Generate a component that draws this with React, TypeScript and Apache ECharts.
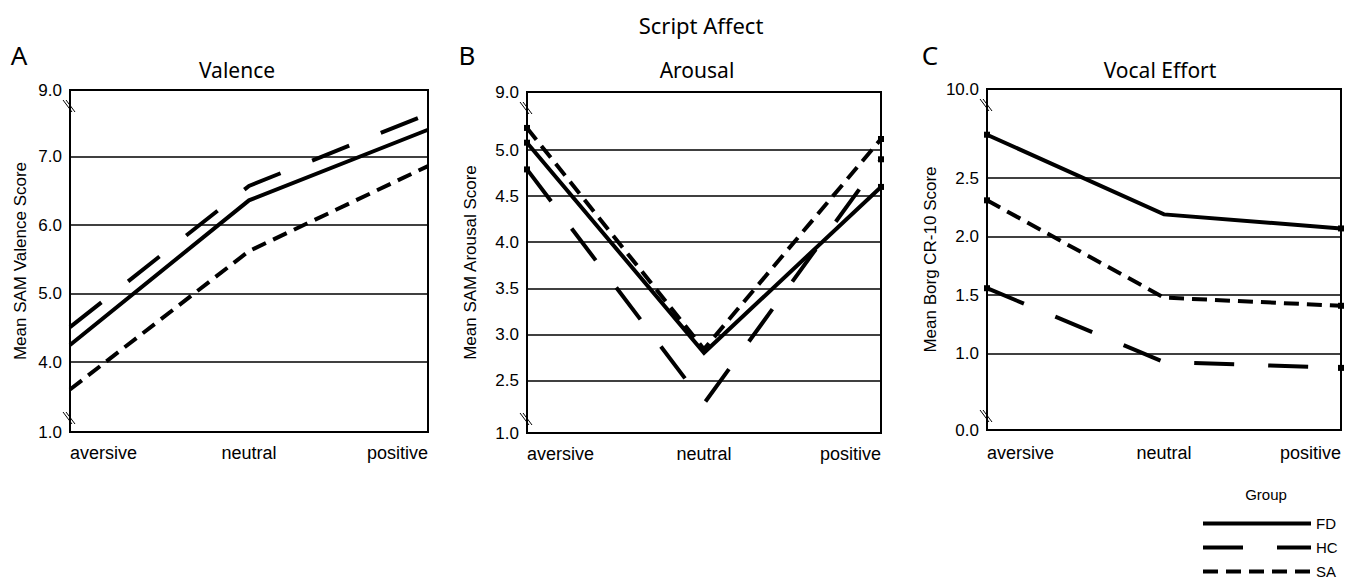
import React, { useEffect, useRef } from "react";
import * as echarts from "echarts";

// ---------- data ----------
const categories = ["aversive", "neutral", "positive"];
const groups = ["FD", "HC", "SA"];

const valenceFD = [4.25, 6.36, 7.39];
const valenceHC = [4.51, 6.57, 7.62];
const valenceSA = [3.6, 5.62, 6.86];

const arousalFD = [5.08, 2.8, 4.6];
const arousalHC = [4.79, 2.25, 4.9];
const arousalSA = [5.24, 2.84, 5.12];

const effortFD = [2.87, 2.19, 2.07];
const effortHC = [1.56, 0.93, 0.88];
const effortSA = [2.31, 1.48, 1.41];

// axis values (first and last are the broken-axis ends) and their labels
const valenceAxisValues = [2.98, 4.0, 5.0, 6.0, 7.0, 7.97];
const valenceAxisLabels = ["1.0", "4.0", "5.0", "6.0", "7.0", "9.0"];
const arousalAxisValues = [1.93, 2.5, 3.0, 3.5, 4.0, 4.5, 5.0, 5.63];
const arousalAxisLabels = ["1.0", "2.5", "3.0", "3.5", "4.0", "4.5", "5.0", "9.0"];
const effortAxisValues = [0.35, 1.0, 1.5, 2.0, 2.5, 3.26];
const effortAxisLabels = ["0.0", "1.0", "1.5", "2.0", "2.5", "10.0"];

const panelTitles = ["Valence", "Arousal", "Vocal Effort"];
const panelLetters = ["A", "B", "C"];
const yNames = ["Mean SAM Valence Score", "Mean SAM Arousal Score", "Mean Borg CR-10 Score"];
const mainTitle = "Script Affect";
const legendTitle = "Group";

// ---------- layout ----------
const grids = [
  { left: 70, top: 90, width: 358, height: 342 },
  { left: 527, top: 92, width: 354, height: 341 },
  { left: 987, top: 89, width: 354, height: 341 },
];
const nameGaps = [41, 48, 48];
const labelMargins = [12, 12, 14];
const titleX = [237, 697, 1160];
const letterX = [19, 467, 930];
const legendRowTops = [516, 540, 564];

const AXIS_FONT = "Liberation Sans";
const TITLE_FONT = "Noto Sans";

const dashTypes: any[] = ["solid", [40, 34], [15, 8]];

export default function App() {
  const ref = useRef<HTMLDivElement>(null);

  useEffect(() => {
    document.body.style.margin = "0";
    if (!ref.current) return;
    const chart = echarts.init(ref.current, undefined, { renderer: "svg" });

    const panels = [
      { series: [valenceFD, valenceHC, valenceSA], vals: valenceAxisValues, labels: valenceAxisLabels, ends: false },
      { series: [arousalFD, arousalHC, arousalSA], vals: arousalAxisValues, labels: arousalAxisLabels, ends: true },
      { series: [effortFD, effortHC, effortSA], vals: effortAxisValues, labels: effortAxisLabels, ends: true },
    ];

    const grid = grids.map((g) => ({ ...g, show: true, borderColor: "#000", borderWidth: 2, backgroundColor: "transparent" }));

    const xAxis = panels.map((_, i) => ({
      gridIndex: i,
      type: "category",
      data: categories,
      boundaryGap: false,
      axisLine: { show: false },
      axisTick: { show: false },
      splitLine: { show: false },
      axisLabel: {
        color: "#000",
        fontSize: 18,
        fontFamily: AXIS_FONT,
        margin: labelMargins[i],
        alignMinLabel: "left",
        alignMaxLabel: "right",
      },
    }));

    const yAxis = panels.map((p, i) => ({
      gridIndex: i,
      type: "value",
      min: p.vals[0],
      max: p.vals[p.vals.length - 1],
      axisLine: { show: false },
      axisTick: { show: false },
      splitLine: { show: false },
      axisLabel: {
        customValues: p.vals,
        showMinLabel: true,
        showMaxLabel: true,
        color: "#000",
        fontSize: 17,
        fontFamily: AXIS_FONT,
        margin: 8,
        formatter: (v: number) => {
          let best = 0;
          for (let k = 0; k < p.vals.length; k++) {
            if (Math.abs(p.vals[k] - v) < Math.abs(p.vals[best] - v)) best = k;
          }
          return p.labels[best];
        },
      },
      name: yNames[i],
      nameLocation: "middle",
      nameGap: nameGaps[i],
      nameTextStyle: { color: "#000", fontSize: 17, fontFamily: AXIS_FONT },
    }));

    const series: any[] = [];
    panels.forEach((p, i) => {
      p.series.forEach((data, s) => {
        const seriesData = p.ends
          ? data.map((v, k) => (k === 0 || k === data.length - 1 ? v : { value: v, symbol: "none" }))
          : data;
        const item: any = {
          type: "line",
          name: groups[s],
          xAxisIndex: i,
          yAxisIndex: i,
          data: seriesData,
          symbol: p.ends ? "rect" : "none",
          symbolSize: 6,
          showSymbol: p.ends,
          itemStyle: { color: "#000" },
          color: "#000",
          lineStyle: { color: "#000", width: 4, type: dashTypes[s], cap: "butt", join: "miter" },
          silent: true,
          z: 3,
        };
        if (s === 0) {
          item.markLine = {
            silent: true,
            symbol: ["none", "none"],
            label: { show: false },
            lineStyle: { color: "#000", width: 1.5, type: "solid" },
            z: 1,
            data: p.vals.slice(1, -1).map((v) => ({ yAxis: v })),
          };
        }
        series.push(item);
      });
    });

    const graphic: any[] = [];
    const txt = (text: string, x: number, y: number, size: number, font: string) => ({
      type: "text",
      x,
      y,
      style: {
        text,
        fill: "#000",
        font: `${size}px "${font}"`,
        textAlign: "center",
        textVerticalAlign: "middle",
        align: "center",
        verticalAlign: "middle",
      },
    });
    graphic.push(txt(mainTitle, 701, 25, 22, TITLE_FONT));
    panelTitles.forEach((t, i) => graphic.push(txt(t, titleX[i], 70, 21, TITLE_FONT)));
    panelLetters.forEach((t, i) => graphic.push(txt(t, letterX[i], 55, 26, TITLE_FONT)));
    graphic.push(txt(legendTitle, 1266, 494, 15, AXIS_FONT));

    // broken-axis marks
    grids.forEach((g) => {
      const bottom = g.top + g.height;
      const marks = [
        [g.top + 10, g.top + 22],
        [bottom - 20, bottom - 8],
      ];
      marks.forEach(([y1, y2]) => {
        [0, 3].forEach((dx) => {
          graphic.push({
            type: "line",
            shape: { x1: g.left - 7 + dx, y1, x2: g.left + 2 + dx, y2 },
            style: { stroke: "#000", lineWidth: 1 },
            silent: true,
          });
        });
      });
    });

    const legend = groups.map((g, k) => ({
      data: [g],
      orient: "horizontal",
      left: 1201,
      top: legendRowTops[k],
      padding: 0,
      itemWidth: 108,
      itemHeight: 14,
      selectedMode: false,
      textStyle: { color: "#000", fontSize: 15, fontFamily: AXIS_FONT },
      itemStyle: { color: "transparent", borderWidth: 0, opacity: 0 },
      lineStyle: { width: 4, color: "#000", cap: "butt" },
    }));

    chart.setOption({
      animation: false,
      backgroundColor: "#fff",
      grid,
      xAxis,
      yAxis,
      series,
      graphic,
      legend,
    });

    return () => chart.dispose();
  }, []);

  return <div ref={ref} style={{ width: 1350, height: 580 }} />;
}
